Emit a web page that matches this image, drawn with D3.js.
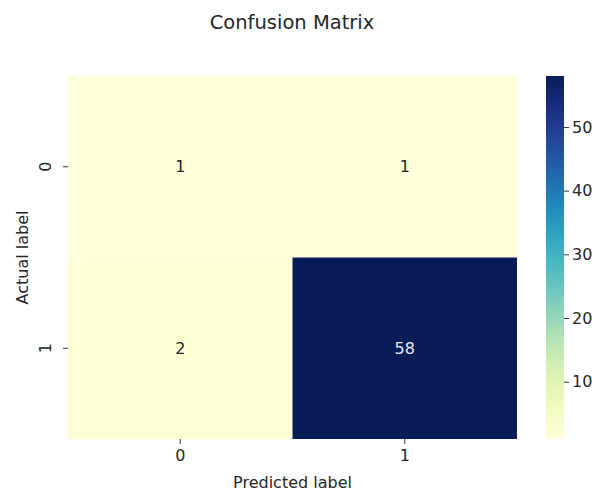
<!DOCTYPE html>
<html>
<head>
<meta charset="utf-8">
<script src="https://cdn.jsdelivr.net/npm/d3@7"></script>
<style>
  html, body { margin: 0; padding: 0; background: #fff; overflow: hidden; }
  svg { display: block; font-family: "DejaVu Sans", sans-serif; }
</style>
</head>
<body>
<svg id="chart" width="592" height="493"></svg>
<script>
// Class labels and confusion counts (rows = actual, columns = predicted)
const actualLabels = ["0", "1"];
const predictedLabels = ["0", "1"];
const row0 = [1, 1];
const row1 = [2, 58];
const colorbarTicks = [10, 20, 30, 40, 50];

const matrix = [row0, row1];
const cells = [];
matrix.forEach((row, i) => row.forEach((v, j) => cells.push({ actual: actualLabels[i], predicted: predictedLabels[j], value: v })));

const svg = d3.select("#chart");
const plot = { left: 68, top: 76, right: 517, bottom: 439 };
const labelSize = 16;

const x = d3.scaleBand().domain(predictedLabels).range([plot.left, plot.right]);
const y = d3.scaleBand().domain(actualLabels).range([plot.top, plot.bottom]);

const vmin = d3.min(cells, d => d.value);
const vmax = d3.max(cells, d => d.value);
const color = d3.scaleSequential(d3.interpolateYlGnBu).domain([vmin, vmax]);

// Heatmap cells
svg.append("g").selectAll("rect").data(cells).join("rect")
  .attr("x", d => x(d.predicted))
  .attr("y", d => y(d.actual))
  .attr("width", x.bandwidth())
  .attr("height", y.bandwidth())
  .attr("fill", d => color(d.value));

// Cell annotations
svg.append("g").selectAll("text").data(cells).join("text")
  .attr("x", d => x(d.predicted) + x.bandwidth() / 2)
  .attr("y", d => y(d.actual) + y.bandwidth() / 2)
  .attr("text-anchor", "middle")
  .attr("dominant-baseline", "central")
  .attr("font-size", labelSize)
  .attr("fill", d => (d.value - vmin) / (vmax - vmin) > 0.6 ? "#e8e8f0" : "#262626")
  .text(d => d.value);

// Axes
const xAxis = svg.append("g")
  .attr("transform", `translate(0,${plot.bottom})`)
  .call(d3.axisBottom(x).tickSize(5).tickPadding(6));
const yAxis = svg.append("g")
  .attr("transform", `translate(${plot.left},0)`)
  .call(d3.axisLeft(y).tickSize(5));
[xAxis, yAxis].forEach(g => {
  g.select(".domain").remove();
  g.selectAll(".tick line").attr("stroke", "#333");
  g.selectAll(".tick text").attr("font-size", labelSize).attr("fill", "#262626").attr("font-family", "DejaVu Sans, sans-serif");
});
yAxis.selectAll(".tick text")
  .attr("x", 0).attr("y", -17)
  .attr("dy", "0")
  .attr("text-anchor", "middle")
  .attr("transform", "rotate(-90)");

// Axis titles
svg.append("text")
  .attr("x", (plot.left + plot.right) / 2)
  .attr("y", 488)
  .attr("text-anchor", "middle")
  .attr("font-size", labelSize)
  .attr("fill", "#262626")
  .text("Predicted label");
svg.append("text")
  .attr("transform", `translate(28,${(plot.top + plot.bottom) / 2}) rotate(-90)`)
  .attr("text-anchor", "middle")
  .attr("font-size", labelSize)
  .attr("fill", "#262626")
  .text("Actual label");

// Title
svg.append("text")
  .attr("x", 292)
  .attr("y", 29)
  .attr("text-anchor", "middle")
  .attr("font-size", 19.5)
  .attr("fill", "#262626")
  .text("Confusion Matrix");

// Colorbar
const cb = { left: 546, width: 18, top: 76, bottom: 439 };
const cbScale = d3.scaleLinear().domain([vmin, vmax]).range([cb.bottom, cb.top]);
const defs = svg.append("defs");
const grad = defs.append("linearGradient").attr("id", "cbgrad")
  .attr("x1", 0).attr("y1", 1).attr("x2", 0).attr("y2", 0);
d3.range(0, 1.0001, 0.05).forEach(t => {
  grad.append("stop").attr("offset", t).attr("stop-color", d3.interpolateYlGnBu(t));
});
svg.append("rect")
  .attr("x", cb.left).attr("y", cb.top)
  .attr("width", cb.width).attr("height", cb.bottom - cb.top)
  .attr("fill", "url(#cbgrad)");
const cbAxis = svg.append("g")
  .attr("transform", `translate(${cb.left + cb.width},0)`)
  .call(d3.axisRight(cbScale).tickValues(colorbarTicks).tickSize(5).tickPadding(3));
cbAxis.select(".domain").remove();
cbAxis.selectAll(".tick line").attr("stroke", "#333");
cbAxis.selectAll(".tick text").attr("font-size", labelSize).attr("fill", "#262626").attr("font-family", "DejaVu Sans, sans-serif");
</script>
</body>
</html>
